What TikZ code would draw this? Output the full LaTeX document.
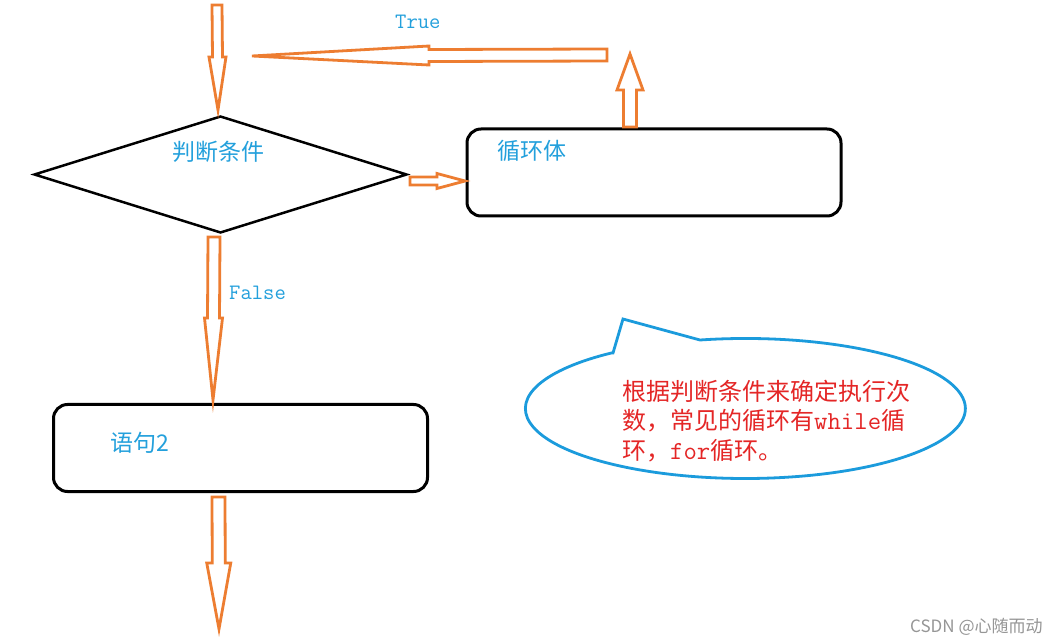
\documentclass[tikz,border=0pt]{standalone}
\usepackage{fontspec}
\setmainfont{Noto Sans CJK SC}
\usetikzlibrary{shapes.geometric,calc}
\definecolor{aorange}{RGB}{237,125,49}
\definecolor{tcyan}{RGB}{35,160,220}
\definecolor{cblue}{RGB}{27,155,220}
\definecolor{tred}{RGB}{228,38,38}
\definecolor{wgray}{RGB}{150,150,150}
\newcommand\notemono[1]{{\ttfamily\fontsize{26}{30}\selectfont #1}}
\tikzset{
 oarrow/.style={draw=aorange, line width=2.8pt, line join=miter, fill=white},
 rbox/.style={draw=black, line width=3pt, rounded corners=14pt, minimum width=374pt, minimum height=87pt, inner sep=0pt},
 lbl/.style={text=tcyan, font=\fontsize{23}{27}\selectfont, inner sep=0pt, anchor=base west},
 tf/.style={text=tcyan, font=\ttfamily\fontsize{22}{26}\selectfont, inner sep=0pt, anchor=base west},
 notetxt/.style={text=tred, font=\fontsize{24}{30}\selectfont, inner sep=0pt, anchor=base west},
}
% hollow block arrow: from, to, shaft half width, head half width, head length
\newcommand\blockarrow[5]{%
  \coordinate (ba-h) at ($(#2)!#5!(#1)$);
  \draw[oarrow] ($(#1)!#3!90:(#2)$) -- ($(ba-h)!#3!-90:(#1)$) -- ($(ba-h)!#4!-90:(#1)$) -- (#2)
     -- ($(ba-h)!#4!90:(#1)$) -- ($(ba-h)!#3!90:(#1)$) -- ($(#1)!#3!-90:(#2)$) -- cycle;
}
\begin{document}
\begin{tikzpicture}[x=1pt,y=-1pt]
\fill[white] (0,0) rectangle (1061,644);
\useasboundingbox (0,0) rectangle (1061,644);

% nodes
\node[diamond, draw=black, line width=2.5pt, minimum width=373pt, minimum height=117pt, inner sep=0pt] (cond) at (220.5,174.5) {};
\node[lbl] (condtxt) at (172,160.5) {判断条件};
\node[rbox] (body) at (654,172.5) {};
\node[lbl] (bodytxt) at (497,160) {循环体};
\node[rbox] (stmt) at (240.5,448) {};
\node[lbl] (stmttxt) at (110,451) {语句2};
\node[tf] (truetxt) at (395,29) {True};
\node[tf] (falsetxt) at (229,300) {False};

% arrow end points
\coordinate (a1s) at (217,5);
\coordinate (a1e) at (218,110);
\coordinate (a2s) at (410,181);
\coordinate (a2e) at (465,181);
\coordinate (a3s) at (630,127);
\coordinate (a3e) at (630,54);
\coordinate (a4s) at (607,55);
\coordinate (a4e) at (252,56);
\coordinate (a5s) at (214,237);
\coordinate (a5e) at (213,400);
\coordinate (a6s) at (218.5,497);
\coordinate (a6e) at (219,629);

\blockarrow{a1s}{a1e}{5pt}{8.5pt}{53pt}
\blockarrow{a2s}{a2e}{4pt}{7.5pt}{28pt}
\blockarrow{a3s}{a3e}{6.5pt}{13pt}{36pt}
\blockarrow{a4s}{a4e}{6pt}{9.5pt}{177pt}
\blockarrow{a5s}{a5e}{6pt}{9pt}{82pt}
\blockarrow{a6s}{a6e}{6.5pt}{12pt}{66pt}

% callout
\draw[cblue, line width=2.8pt, line join=miter] (613,353) -- (623,319) -- (700,340)
  arc[start angle=258.1, end angle=592.6, x radius=220, y radius=70] -- cycle;
\node[notetxt] (note1) at (622,401) {根据判断条件来确定执行次};
\node[notetxt] (note2) at (622,430) {数，常见的循环有\notemono{while}循};
\node[notetxt] (note3) at (622,460) {环，\notemono{for}循环。};

% watermark
\node[text=wgray, font=\fontsize{17}{20}\selectfont, inner sep=0pt, anchor=base west] (wm) at (910,632) {CSDN @心随而动};
\end{tikzpicture}
\end{document}
